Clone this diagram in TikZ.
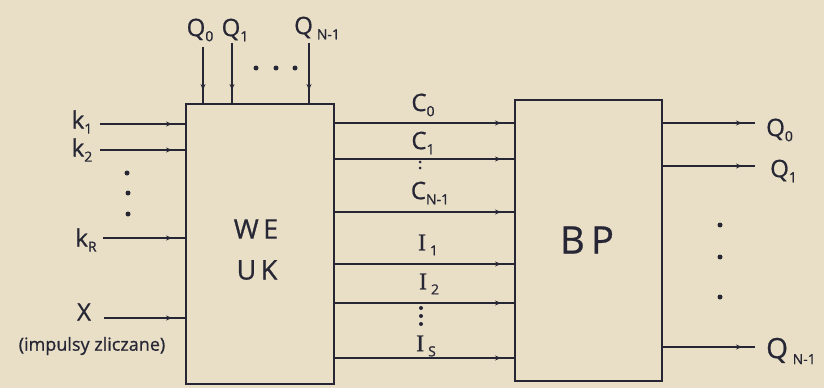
\documentclass[tikz,border=0pt]{standalone}
\usepackage{fontspec}
\setmainfont{Open Sans}[FakeBold=0.8]
\newfontfamily\serifI{Liberation Serif}[FakeBold=0.8]
\usetikzlibrary{arrows.meta,decorations.markings}
\definecolor{paper}{RGB}{233,223,199}
\definecolor{ink}{RGB}{38,38,52}
\newcommand{\lsub}[1]{\raisebox{-0.4ex}{\fontsize{14}{14}\selectfont #1}}
\tikzset{
  wire/.style={draw=ink, line width=1.5pt, postaction={decorate},
    decoration={markings, mark=at position -13pt with {\arrow[ink]{Stealth[length=6pt,width=5pt]}}}},
  blockbox/.style={draw=ink, line width=1.7pt, rectangle, inner sep=0pt, anchor=north west},
  lbl/.style={text=ink, inner sep=0pt, font=\fontsize{24}{24}\selectfont},
  dotmark/.style={fill=ink, circle, inner sep=0pt, minimum size=5pt},
  smalldot/.style={fill=ink, circle, inner sep=0pt, minimum size=3pt}
}
\begin{document}
\begin{tikzpicture}[x=1pt,y=-1pt]
\fill[paper] (0,0) rectangle (824,388);
\useasboundingbox (0,0) rectangle (824,388);

% blocks
\node[blockbox, minimum width=148pt, minimum height=280pt] (weuk) at (185,103) {};
\node[blockbox, minimum width=147pt, minimum height=281pt] (bp) at (514,99) {};
\node[lbl, font=\fontsize{27}{27}\selectfont] (we) at (256,229) {W\,E};
\node[lbl, font=\fontsize{27}{27}\selectfont] (uk) at (257,270) {U\,K};
\node[lbl, font=\fontsize{38}{38}\selectfont] (bptxt) at (587,240) {B\,P};

% top inputs
\coordinate (tq0) at (203,47);
\coordinate (tq1) at (232,43);
\coordinate (tqn) at (309,43);
\draw[wire] (tq0) -- (tq0 |- weuk.north);
\draw[wire] (tq1) -- (tq1 |- weuk.north);
\draw[wire] (tqn) -- (tqn |- weuk.north);
\node[lbl] (ltq0) at (200,30) {Q\lsub{0}};
\node[lbl] (ltq1) at (235,30) {Q\lsub{1}};
\node[lbl, anchor=west] (ltqn) at (294,28) {Q\,\lsub{N-1}};
\node[dotmark] (td1) at (256,68) {};
\node[dotmark] (td2) at (276,68) {};
\node[dotmark] (td3) at (295,68) {};

% left inputs
\coordinate (ik1) at (100,124);
\coordinate (ik2) at (100,150);
\coordinate (ikr) at (103,238);
\coordinate (ix) at (104,318);
\draw[wire] (ik1) -- (ik1 -| weuk.west);
\draw[wire] (ik2) -- (ik2 -| weuk.west);
\draw[wire] (ikr) -- (ikr -| weuk.west);
\draw[wire] (ix) -- (ix -| weuk.west);
\node[lbl] (lk1) at (82,122) {k\lsub{1}};
\node[lbl] (lk2) at (82,150) {k\lsub{2}};
\node[lbl] (lkr) at (86,240) {k\lsub{R}};
\node[lbl] (lx) at (84,312) {X};
\node[lbl, font=\fontsize{18}{18}\selectfont] (limp) at (92,346) {(impulsy zliczane)};
\node[dotmark] (ld1) at (127,173) {};
\node[dotmark] (ld2) at (128,193) {};
\node[dotmark] (ld3) at (128,214) {};

% connections between blocks
\foreach \n/\y in {c0/123, c1/159, cn/212, i1/264, i2/303, is/358}{
  \coordinate (m\n) at (333,\y);
  \draw[wire] (m\n) -- (m\n -| bp.west);
}
\node[lbl] (lc0) at (423,105) {C\lsub{0}};
\node[lbl] (lc1) at (423,143) {C\lsub{1}};
\node[smalldot] (cd1) at (420,162) {};
\node[smalldot] (cd2) at (420,168) {};
\node[lbl] (lcn) at (430,193) {C\lsub{N-1}};
\node[lbl] (li1) at (428,245) {{\serifI I}\,\lsub{1}};
\node[lbl] (li2) at (429,284) {{\serifI I}\,\lsub{2}};
\node[dotmark, minimum size=4pt] (id1) at (421,308) {};
\node[dotmark, minimum size=4pt] (id2) at (421,316) {};
\node[dotmark, minimum size=4pt] (id3) at (421,324) {};
\node[lbl] (lis) at (426,346) {{\serifI I}\,\lsub{S}};

% right outputs
\coordinate (oq0) at (755,123);
\coordinate (oq1) at (755,166);
\coordinate (oqn) at (755,347);
\draw[wire] (oq0 -| bp.east) -- (oq0);
\draw[wire] (oq1 -| bp.east) -- (oq1);
\draw[wire] (oqn -| bp.east) -- (oqn);
\node[lbl, anchor=west] (loq0) at (766,130) {Q\lsub{0}};
\node[lbl, anchor=west] (loq1) at (770,171) {Q\lsub{1}};
\node[lbl, anchor=west, font=\fontsize{28}{28}\selectfont] (loqn) at (766,351) {Q\,\lsub{N-1}};
\node[dotmark] (rd1) at (720,225) {};
\node[dotmark] (rd2) at (720,257) {};
\node[dotmark] (rd3) at (720,297) {};
\end{tikzpicture}
\end{document}
